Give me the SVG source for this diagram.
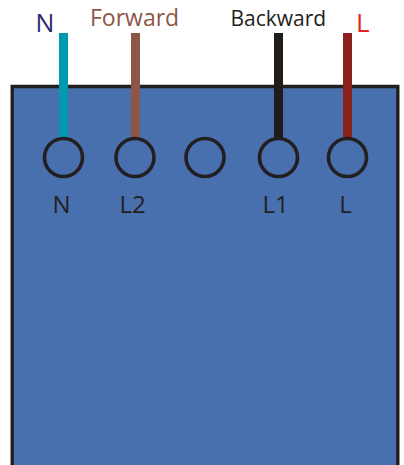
<svg xmlns="http://www.w3.org/2000/svg" width="404" height="465" viewBox="0 0 404 465">
<style>
text{font-family:"Open Sans","Noto Sans","Liberation Sans",sans-serif}
.t{fill:none;stroke:#231f20;stroke-width:3.6}
.l{fill:#231f20;font-size:24px;text-anchor:middle}
.w{stroke-width:9;fill:none}
</style>
<rect width="404" height="465" fill="#fff"/>
<g id="box"><path d="M12.2 465V86.5H397.800V465" fill="#4870ae" stroke="#231f20" stroke-width="3.4"/></g>
<g id="connectors">
<path class="w" stroke="#0099ad" d="M63.500 33V138"/>
<path class="w" stroke="#8e5646" d="M135.500 33V138"/>
<path class="w" stroke="#1f1b18" d="M278.500 33V140"/>
<path class="w" stroke="#8a211c" d="M347.500 33V138"/>
</g>
<g id="term-n"><circle class="t" cx="63.500" cy="157.500" r="19"/><text class="l" x="61.500" y="213">N</text></g>
<g id="term-l2"><circle class="t" cx="135" cy="157.500" r="19"/><text class="l" x="132.500" y="213">L2</text></g>
<g id="term-blank"><circle class="t" cx="205" cy="157.500" r="19"/></g>
<g id="term-l1"><circle class="t" cx="278.500" cy="157.500" r="19"/><text class="l" x="275.500" y="213">L1</text></g>
<g id="term-l"><circle class="t" cx="347.500" cy="157.500" r="19"/><text class="l" x="345.500" y="213">L</text></g>
<g id="label-n"><text x="35.500" y="32" style="font-size:25px" fill="#2e2870">N</text></g>
<g id="label-forward"><text x="90" y="26" style="font-size:23px" fill="#8e5646">Forward</text></g>
<g id="label-backward"><text x="230.500" y="26" style="font-size:21px" fill="#231f20">Backward</text></g>
<g id="label-l"><text x="356" y="32" style="font-size:26px" fill="#e0262a">L</text></g>
</svg>
